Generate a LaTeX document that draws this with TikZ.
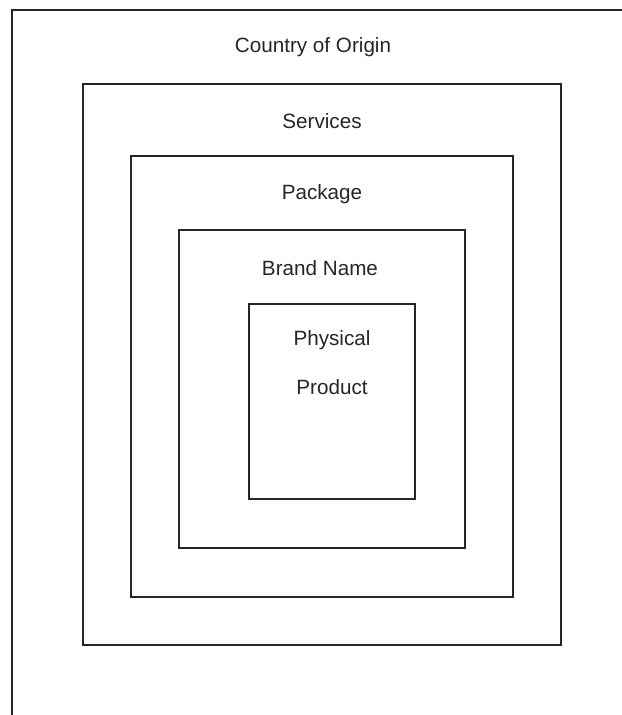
\documentclass[tikz,border=0pt]{standalone}
\usepackage{fontspec}
\setmainfont{Liberation Sans}
\begin{document}
\begin{tikzpicture}[x=0.75pt,y=-0.75pt,
  frame/.style={draw=black!85,line width=1.3pt},
  lbl/.style={font=\fontsize{15.5}{18}\selectfont,text=black!85,inner sep=0pt}]
\useasboundingbox (0,0) rectangle (622,715);
\fill[white] (0,0) rectangle (622,715);
\draw[frame] (12,715) -- (12,10) -- (622,10);
\draw[frame] (83,84) rectangle (561,645);
\draw[frame] (131,156) rectangle (513,597);
\draw[frame] (179,230) rectangle (465,548);
\draw[frame] (249,304) rectangle (415,499);
\node[lbl] (coo) at (313,47) {Country of Origin};
\node[lbl] (svc) at (322,121) {Services};
\node[lbl] (pkg) at (322,194) {Package};
\node[lbl] (brand) at (320,268) {Brand Name};
\node[lbl] (phys) at (332,340) {Physical};
\node[lbl] (prod) at (332,387) {Product};
\end{tikzpicture}
\end{document}
